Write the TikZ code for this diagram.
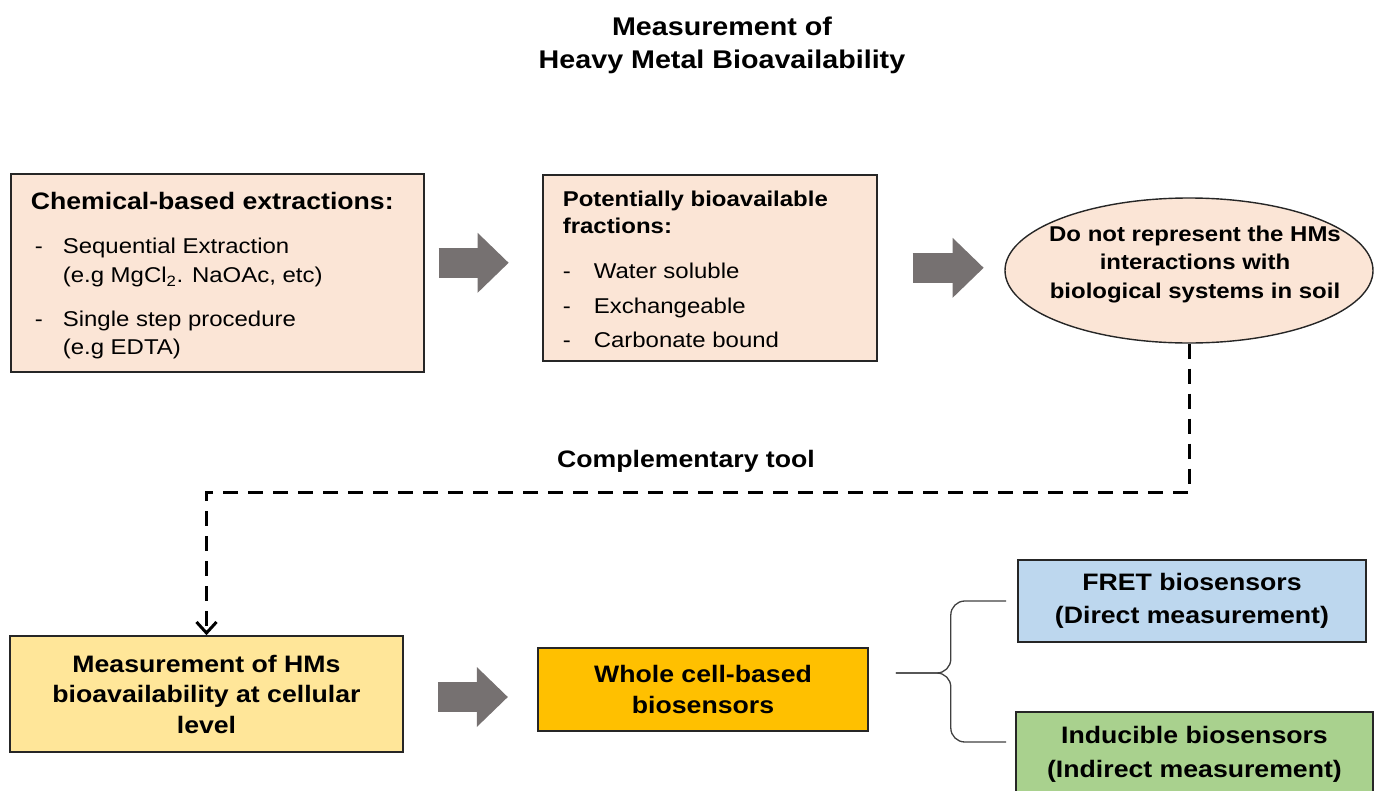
\documentclass[tikz,border=0pt]{standalone}
\usepackage{fontspec}
\setmainfont[FakeStretch=1.12]{Liberation Sans}
\usepackage{tikz}
\usetikzlibrary{arrows.meta, shapes}

\definecolor{peach}{HTML}{FBE5D6}
\definecolor{softyellow}{HTML}{FFE699}
\definecolor{gold}{HTML}{FFC000}
\definecolor{skyblue}{HTML}{BDD7EE}
\definecolor{leafgreen}{HTML}{A9D18E}
\definecolor{arrowgray}{HTML}{767171}

\newcommand{\ttlfont}{\fontsize{25.6}{33}\selectfont\bfseries}
\newcommand{\mdbold}{\fontsize{23.8}{28}\selectfont\bfseries}
\newcommand{\smbold}{\fontsize{21.4}{27}\selectfont\bfseries}

\begin{document}
\begin{tikzpicture}[x=1pt, y=-1pt,
    box/.style={draw=black!85, line width=1.6pt, inner xsep=20pt, inner ysep=0pt, anchor=north west},
    cbox/.style={draw=black!85, line width=1.6pt, align=center},
    fatarrow/.style={line width=30pt, draw=arrowgray, -{Triangle[length=31pt, width=60pt, line width=0pt]}},
    dashlink/.style={line width=3pt, dash pattern=on 15pt off 10pt, -{Straight Barb[length=11pt, width=20pt]}},
    bracel/.style={line width=1.3pt, draw=black!75, rounded corners=14pt}]

    \useasboundingbox (0,0) rectangle (1379,790);

    \node[font=\ttlfont, align=center] (title) at (722,45) {Measurement of\\Heavy Metal Bioavailability};

    % upper row
    \node[box, fill=peach, font=\fontsize{21.4}{28}\selectfont] (chem) at (10,173) {\begin{tabular}{@{}p{32pt}@{}p{341pt}@{}}
        \multicolumn{2}{@{}l@{}}{\rule{0pt}{36pt}\mdbold Chemical-based extractions:}\\[16pt]
        \hspace*{4pt}- & Sequential Extraction\\[1pt]
        & (e.g MgCl\textsubscript{2}. NaOAc, etc)\\[16pt]
        \hspace*{4pt}- & Single step procedure\\
        & (e.g EDTA)\rule[-17pt]{0pt}{17pt}
    \end{tabular}};
    \node[box, fill=peach, font=\fontsize{21.4}{27}\selectfont] (frac) at (542,174) {\begin{tabular}{@{}p{31pt}@{}p{263pt}@{}}
        \multicolumn{2}{@{}l@{}}{\rule{0pt}{32pt}\smbold Potentially bioavailable}\\
        \multicolumn{2}{@{}l@{}}{\smbold fractions:}\\[18pt]
        - & Water soluble\\[8pt]
        - & Exchangeable\\[7pt]
        - & Carbonate bound\rule[-13pt]{0pt}{13pt}
    \end{tabular}};
    \node[ellipse, draw=black!85, line width=1.4pt, fill=peach, minimum width=368pt, minimum height=145pt, inner sep=0pt,
        font=\fontsize{21.4}{28.5}\selectfont\bfseries] (soil) at (1189,270.5)
        {\makebox[0pt]{\hspace*{12pt}\begin{tabular}{@{}c@{}}Do not represent the HMs\\interactions with\\biological systems in soil\rule[-21.5pt]{0pt}{21.5pt}\end{tabular}}};

    \draw[fatarrow] ([shift={(14pt,10pt)}]chem.east) -- ++(70,0);
    \draw[fatarrow] ([xshift=35pt]frac.east) -- ++(71,0);

    % lower row
    \node[cbox, fill=softyellow, minimum width=393pt, minimum height=116pt, font=\fontsize{23.8}{30.5}\selectfont\bfseries] (cell) at (206.5,694)
        {Measurement of HMs\\bioavailability at cellular\\level};
    \node[cbox, fill=gold, minimum width=330pt, minimum height=83pt, font=\fontsize{23.8}{31}\selectfont\bfseries] (whole) at (703,689.5)
        {Whole cell-based\\biosensors};
    \node[cbox, fill=skyblue, minimum width=348pt, minimum height=82pt, font=\fontsize{23.8}{33}\selectfont\bfseries] (fret) at (1192,601)
        {FRET biosensors\\(Direct measurement)};
    \node[cbox, fill=leafgreen, minimum width=357pt, minimum height=84pt, font=\fontsize{23.8}{34}\selectfont\bfseries] (induc) at (1194.5,754)
        {Inducible biosensors\\(Indirect measurement)};

    \draw[fatarrow] ([shift={(34pt,-3pt)}]cell.east) -- ++(70,0);

    % dashed link
    \draw[dashlink] (soil.south) -- ++(0,149) -| (cell.north);
    \node[font=\mdbold, anchor=base] (tool) at (686,467) {Complementary tool};

    % brace
    \coordinate (btip) at ([shift={(27pt,16.5pt)}]whole.east);
    \coordinate (bmid) at ([xshift=55pt]btip);
    \coordinate (btop) at ([xshift=-11pt]fret.west);
    \coordinate (bbot) at ([shift={(-9pt,12pt)}]induc.west);
    \draw[bracel] (btop) -| (bmid) -- (btip);
    \draw[bracel] (bbot) -| (bmid) -- (btip);
\end{tikzpicture}
\end{document}
